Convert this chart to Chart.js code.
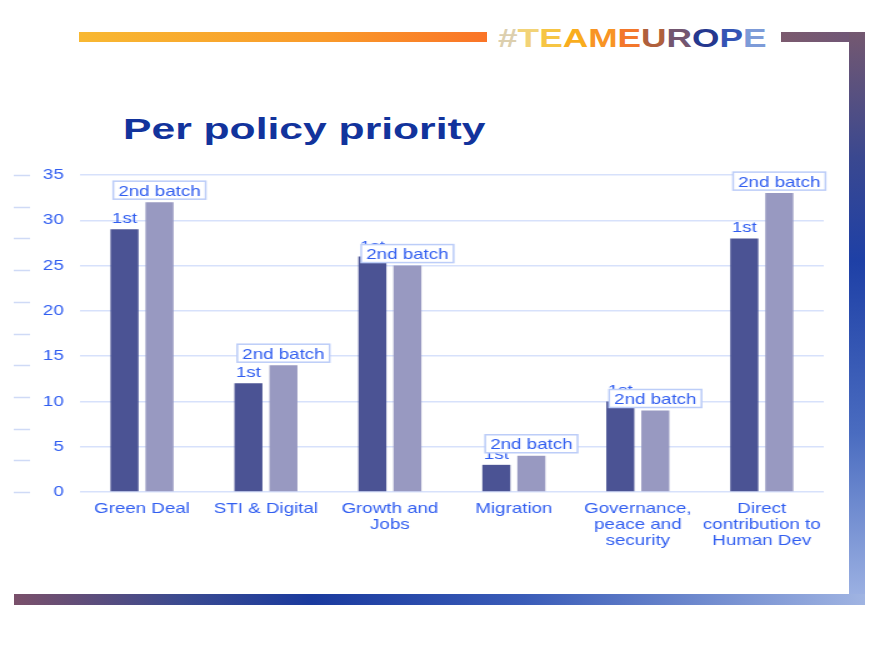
<!DOCTYPE html>
<html>
<head>
<meta charset="utf-8">
<script src="https://cdn.jsdelivr.net/npm/chart.js@4/dist/chart.umd.min.js"></script>
<style>
  body { margin: 0; background: #fff; width: 881px; height: 657px; overflow: hidden; position: relative; font-family: "Liberation Sans", Arial, sans-serif; }
  .bar { position: absolute; }
  #topLeft { left: 79px; top: 32px; width: 408px; height: 10px; background: linear-gradient(90deg, #f8b832, #f99a2a 60%, #fa7427); }
  #topRight { left: 781px; top: 32px; width: 84px; height: 10px; background: linear-gradient(90deg, #7b5a6e, #6e5678); }
  #right { left: 849px; top: 32px; width: 16px; height: 573px; background: linear-gradient(180deg, #745870, #3a4890 22%, #1e40a6 40%, #4a6cc0 70%, #a0b4e4); }
  #bottom { left: 14px; top: 594px; width: 851px; height: 11px; background: linear-gradient(90deg, #7a506a, #3a4a90 20%, #1a3a9e 35%, #3a5cb8 60%, #a0b4e2); }
  #title { position: absolute; left: 123px; top: 115px; font-size: 29px; line-height: 29px; font-weight: bold; color: #12339c; white-space: nowrap; transform: scaleX(1.47); transform-origin: 0 0; }
  #tag { position: absolute; left: 498px; top: 26px; font-size: 25px; line-height: 25px; font-weight: bold; white-space: nowrap; transform: scaleX(1.41); transform-origin: 0 0; }
  #wrap { position: absolute; left: 0; top: 0; width: 705px; height: 657px; transform: scaleX(1.25); transform-origin: 0 0; }
</style>
</head>
<body>
<div class="bar" id="topLeft"></div>
<div class="bar" id="topRight"></div>
<div class="bar" id="right"></div>
<div class="bar" id="bottom"></div>
<div id="tag"><span style="color:#dccfae">#</span><span style="color:#f2d377">T</span><span style="color:#f6c544">E</span><span style="color:#f9ad1d">A</span><span style="color:#f89424">M</span><span style="color:#f3772b">E</span><span style="color:#b0603c">U</span><span style="color:#735670">R</span><span style="color:#25388f">O</span><span style="color:#3454b4">P</span><span style="color:#7d9bd8">E</span></div>
<div id="title">Per policy priority</div>
<div id="wrap"><canvas id="chart" width="705" height="657"></canvas></div>
<script>
const categories = [
  ["Green Deal"],
  ["STI & Digital"],
  ["Growth and", "Jobs"],
  ["Migration"],
  ["Governance,", "peace and", "security"],
  ["Direct", "contribution to", "Human Dev"],
];
const firstBatch = [29, 12, 26, 3, 10, 28];
const secondBatch = [32, 14, 25, 4, 9, 33];
const seriesNames = ["1st", "2nd batch"];
const yMax = 35;
const yStep = 5;

const textBlue = "#315ef0";
const font = '"Liberation Sans", Arial, sans-serif';

// "1st" text and boxed "2nd batch" tag above the bars
const barLabels = {
  id: "barLabels",
  afterDatasetsDraw(chart) {
    const ctx = chart.ctx;
    ctx.save();
    ctx.font = "15px " + font;
    ctx.textAlign = "center";
    ctx.textBaseline = "alphabetic";
    chart.getDatasetMeta(0).data.forEach((bar) => {
      ctx.fillStyle = textBlue;
      ctx.fillText(seriesNames[0], bar.x, bar.y - 6);
    });
    chart.getDatasetMeta(1).data.forEach((bar) => {
      const w = ctx.measureText(seriesNames[1]).width + 8;
      const h = 18;
      const top = bar.y - 3 - h;
      ctx.fillStyle = "#fff";
      ctx.fillRect(bar.x - w / 2, top, w, h);
      ctx.strokeStyle = "#bccdf8";
      ctx.lineWidth = 1.5;
      ctx.strokeRect(bar.x - w / 2, top, w, h);
      ctx.fillStyle = textBlue;
      ctx.fillText(seriesNames[1], bar.x, bar.y - 6.5);
    });
    ctx.restore();
  },
};

// short faint dashes down the left edge
const sideDashes = {
  id: "sideDashes",
  afterDraw(chart) {
    const ctx = chart.ctx;
    const y = chart.scales.y;
    ctx.save();
    ctx.strokeStyle = "#cfdaf6";
    ctx.lineWidth = 1.5;
    for (let i = 0; i <= 10; i++) {
      const py = Math.round(y.getPixelForValue(i * 3.5)) + 0.5;
      ctx.beginPath();
      ctx.moveTo(11, py);
      ctx.lineTo(24, py);
      ctx.stroke();
    }
    ctx.restore();
  },
};

new Chart(document.getElementById("chart"), {
  type: "bar",
  data: {
    labels: categories,
    datasets: [
      {
        label: seriesNames[0],
        data: firstBatch,
        backgroundColor: "#4b5394",
        categoryPercentage: 0.565,
        barPercentage: 0.8,
      },
      {
        label: seriesNames[1],
        data: secondBatch,
        backgroundColor: "#9899c1",
        categoryPercentage: 0.565,
        barPercentage: 0.8,
      },
    ],
  },
  options: {
    responsive: false,
    animation: false,
    devicePixelRatio: 1,
    layout: { padding: { left: 0, right: 46, top: 175, bottom: 105 } },
    scales: {
      x: {
        grid: { display: false },
        border: { display: false },
        ticks: {
          color: textBlue,
          font: { family: font, size: 15, lineHeight: 1.05 },
          padding: 1,
          maxRotation: 0,
          autoSkip: false,
        },
        afterFit: (scale) => { scale.height = 60; },
      },
      y: {
        min: 0,
        max: yMax,
        grid: { color: "#d7e1fb", lineWidth: 1.5, drawTicks: false },
        border: { display: false },
        ticks: {
          stepSize: yStep,
          color: textBlue,
          font: { family: font, size: 15 },
          padding: 13,
        },
        afterFit: (scale) => { scale.width = 64; },
      },
    },
    plugins: {
      legend: { display: false },
      tooltip: { enabled: false },
    },
  },
  plugins: [barLabels, sideDashes],
});
</script>
</body>
</html>
